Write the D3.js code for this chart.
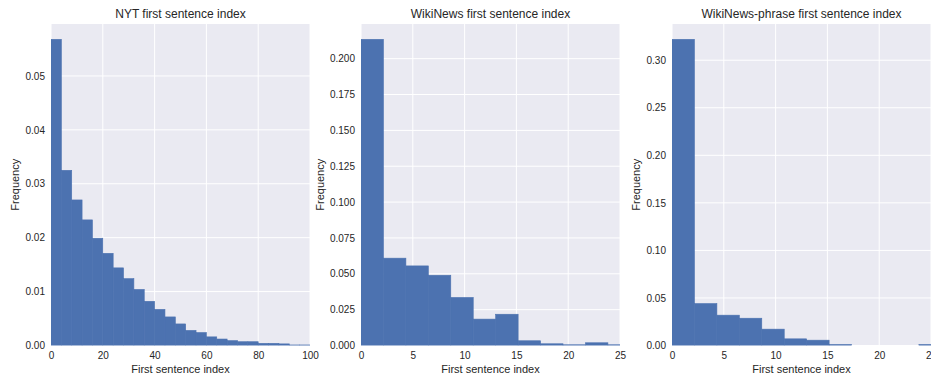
<!DOCTYPE html>
<html>
<head>
<meta charset="utf-8">
<script src="https://cdn.jsdelivr.net/npm/d3@7"></script>
<style>
  body { margin: 0; background: #fff; overflow: hidden; }
  svg text { font-family: "Liberation Sans", Arial, sans-serif; fill: #262626; }
  .tick text { font-size: 10px; }
  .axis-label { font-size: 11px; }
  .title { font-size: 12px; }
</style>
</head>
<body>
<div id="chart"></div>
<script>
// bin heights (normalised frequency)
const nytFreq = [0.0568, 0.0325, 0.0270, 0.0233, 0.0199, 0.0171, 0.0144, 0.0124, 0.0104, 0.0082,
    0.0067, 0.0053, 0.0040, 0.0028, 0.0024, 0.0016, 0.0012, 0.0009, 0.0007, 0.0007,
    0.0004, 0.0004, 0.0003, 0.0001, 0.0001];
const wikiFreq = [0.2135, 0.0609, 0.0555, 0.0490, 0.0335, 0.0184, 0.0218, 0.0033, 0.0012, 0.0005, 0.0019, 0.0005];
const phraseFreq = [0.3220, 0.0441, 0.0319, 0.0287, 0.0172, 0.0070, 0.0056, 0.0011, 0, 0, 0, 0.0011];

const nytEdges = d3.range(0, 101, 4);
const wikiEdges = d3.range(13).map(i => i * 26 / 12);

const nytTicksX = [0, 20, 40, 60, 80, 100];
const wikiTicksX = [0, 5, 10, 15, 20, 25];
const nytTicksY = [0, 0.01, 0.02, 0.03, 0.04, 0.05];
const wikiTicksY = [0, 0.025, 0.05, 0.075, 0.1, 0.125, 0.15, 0.175, 0.2];
const phraseTicksY = [0, 0.05, 0.1, 0.15, 0.2, 0.25, 0.3];

const titles = ['NYT first sentence index', 'WikiNews first sentence index', 'WikiNews-phrase first sentence index'];

const panels = [
    { title: titles[0], freq: nytFreq, edges: nytEdges, xMax: 100, xTicks: nytTicksX, yTicks: nytTicksY, fmt: '.2f', left: 51 },
    { title: titles[1], freq: wikiFreq, edges: wikiEdges, xMax: 25, xTicks: wikiTicksX, yTicks: wikiTicksY, fmt: '.3f', left: 361 },
    { title: titles[2], freq: phraseFreq, edges: wikiEdges, xMax: 25, xTicks: wikiTicksX, yTicks: phraseTicksY, fmt: '.2f', left: 672 }
];

const W = 931, H = 379;
const plotW = 259, plotTop = 24, plotBottom = 345.5;

const svg = d3.select('#chart').append('svg')
    .attr('width', W)
    .attr('height', H);

panels.forEach((p, i) => {
    const g = svg.append('g').attr('transform', `translate(${p.left},0)`);

    const x = d3.scaleLinear().domain([0, p.xMax]).range([0, plotW]);
    const y = d3.scaleLinear().domain([0, d3.max(p.freq) * 1.05]).range([plotBottom, plotTop]);

    g.append('rect')
        .attr('x', 0).attr('y', plotTop)
        .attr('width', plotW).attr('height', plotBottom - plotTop)
        .attr('fill', '#EAEAF2');

    // grid
    g.append('g').selectAll('line')
        .data(p.xTicks)
        .join('line')
        .attr('x1', d => x(d)).attr('x2', d => x(d))
        .attr('y1', plotTop).attr('y2', plotBottom)
        .attr('stroke', '#fff').attr('stroke-width', 1);
    g.append('g').selectAll('line')
        .data(p.yTicks)
        .join('line')
        .attr('x1', 0).attr('x2', plotW)
        .attr('y1', d => y(d)).attr('y2', d => y(d))
        .attr('stroke', '#fff').attr('stroke-width', 1);

    const clipId = 'clip' + i;
    g.append('clipPath').attr('id', clipId)
        .append('rect')
        .attr('x', 0).attr('y', plotTop)
        .attr('width', plotW).attr('height', plotBottom - plotTop);

    // bars (no gaps between bins, like a filled step histogram)
    g.append('g')
        .attr('clip-path', `url(#${clipId})`)
        .selectAll('rect')
        .data(p.freq)
        .join('rect')
        .attr('x', (d, j) => x(p.edges[j]))
        .attr('width', (d, j) => x(p.edges[j + 1]) - x(p.edges[j]))
        .attr('y', d => y(d))
        .attr('height', d => plotBottom - y(d))
        .attr('fill', '#4C72B0')
        .attr('stroke', '#4C72B0')
        .attr('stroke-width', 0.6);

    const xAxis = g.append('g')
        .attr('transform', `translate(0,${plotBottom})`)
        .call(d3.axisBottom(x).tickValues(p.xTicks).tickSize(0).tickPadding(6).tickFormat(d3.format('d')));
    xAxis.select('.domain').remove();

    const yAxis = g.append('g')
        .call(d3.axisLeft(y).tickValues(p.yTicks).tickSize(0).tickPadding(6).tickFormat(d3.format(p.fmt)));
    yAxis.select('.domain').remove();

    g.append('text')
        .attr('class', 'title')
        .attr('x', plotW / 2)
        .attr('y', 18)
        .attr('text-anchor', 'middle')
        .text(p.title);

    g.append('text')
        .attr('class', 'axis-label')
        .attr('x', plotW / 2)
        .attr('y', 373)
        .attr('text-anchor', 'middle')
        .text('First sentence index');

    const yLabelX = i === 1 ? -37 : -32;
    g.append('text')
        .attr('class', 'axis-label')
        .attr('transform', 'rotate(-90)')
        .attr('x', -(plotTop + plotBottom) / 2)
        .attr('y', yLabelX)
        .attr('text-anchor', 'middle')
        .text('Frequency');
});
</script>
</body>
</html>
